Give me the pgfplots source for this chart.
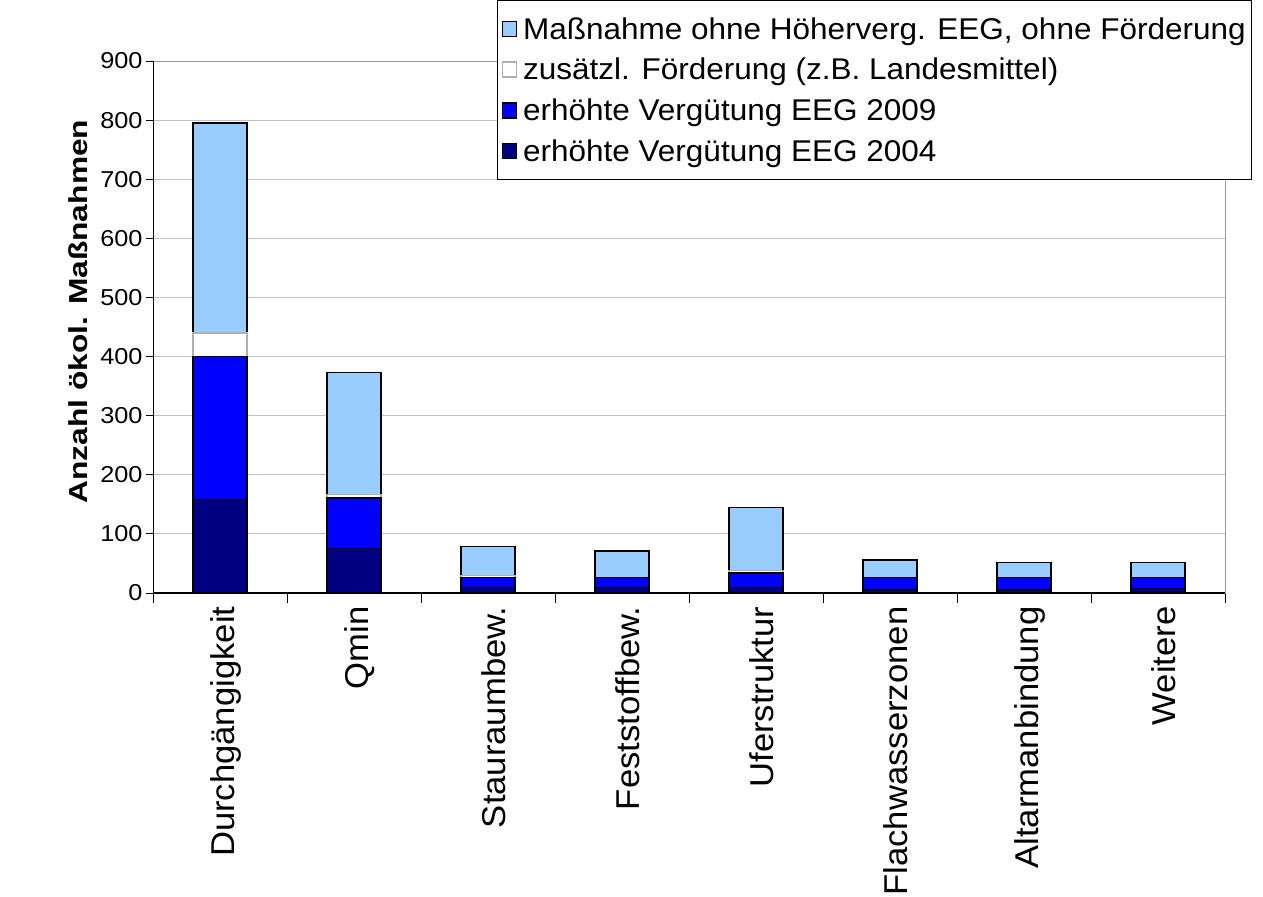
\documentclass[border=0pt]{standalone}
\usepackage{fontspec}
\setmainfont{Liberation Sans}
\newfontfamily\tickf{Liberation Sans}[FakeStretch=1.1]
\newfontfamily\labf{Liberation Sans}[FakeStretch=1.05]
\newfontfamily\legf{Liberation Sans}[FakeStretch=1.05]
\newfontfamily\ylabf{Liberation Sans}[FakeStretch=1.22]
\usepackage{pgfplots}
\pgfplotsset{compat=1.18}
\definecolor{lightb}{HTML}{99CCFF}
\definecolor{midb}{HTML}{0000FF}
\definecolor{navyb}{HTML}{000080}
\definecolor{gridc}{HTML}{C0C0C0}
\definecolor{whiteedge}{HTML}{B0B0B0}
\begin{document}
\begin{tikzpicture}
\begin{axis}[
  name=ax,
  width=1072bp, height=532bp, scale only axis,
  ybar stacked, bar width=54bp,
  xmin=-0.5, xmax=7.5, ymin=0, ymax=900,
  xtick={0,...,7},
  xticklabels={Durchgängigkeit,Qmin,Stauraumbew.,Feststoffbew.,Uferstruktur,Flachwasserzonen,Altarmanbindung,Weitere},
  minor xtick={-0.5,0.5,...,7.5},
  ytick={0,100,...,900},
  tick align=outside, tick pos=left,
  major tick length=7bp, minor tick length=10bp,
  major x tick style={draw=none},
  minor x tick style={draw=black, line width=1bp},
  ytick style={draw=black, line width=1bp},
  ymajorgrids, grid style={draw=gridc, line width=1bp},
  axis line style={draw=gray!80, line width=1bp},
  /pgf/number format/assume math mode=true,
  yticklabel style={font=\tickf\fontsize{23bp}{27bp}\selectfont},
  xticklabel style={font=\labf\fontsize{33bp}{38bp}\selectfont, rotate=90, anchor=east, xshift=-3bp, yshift=-6bp},
  ylabel={Anzahl ökol. Maßnahmen},
  ylabel style={font=\ylabf\bfseries\fontsize{26bp}{30bp}\selectfont, at={(axis description cs:-0.07,0.529)}, anchor=center},
  reverse legend,
  legend cell align=left,
  legend style={at={(rel axis cs:0.321,1.115)}, anchor=north west, draw=black, line width=1bp,
    font=\legf\fontsize{30bp}{36bp}\selectfont, inner xsep=4bp, inner ysep=15bp, row sep=13.5bp,
    /tikz/every odd column/.append style={column sep=4bp},
    /tikz/every even column/.append style={column sep=4bp}},
  legend image code/.code={\draw[#1, line width=1.5bp] (0bp,-7.5bp) rectangle (14bp,7.5bp);},
]
\addplot[fill=navyb, draw=black, line width=1.5bp] coordinates {(0,158) (1,75) (2,9) (3,9) (4,9) (5,5) (6,5) (7,8)};
\addlegendentry{erhöhte Vergütung EEG 2004}
\addplot[fill=midb, draw=black, line width=1.5bp] coordinates {(0,242) (1,86) (2,17) (3,17) (4,25) (5,21) (6,21) (7,18)};
\addlegendentry{erhöhte Vergütung EEG 2009}
\addplot[fill=white, draw=whiteedge, line width=1.5bp] coordinates {(0,40) (1,6) (2,4) (3,0) (4,4) (5,0) (6,0) (7,0)};
\addlegendentry{zusätzl. Förderung (z.B. Landesmittel)}
\addplot[fill=lightb, draw=black, line width=1.5bp] coordinates {(0,355) (1,206) (2,49) (3,45) (4,107) (5,30) (6,26) (7,26)};
\addlegendentry{Maßnahme ohne Höherverg. EEG, ohne Förderung}
\draw[black, line width=1.2bp] (rel axis cs:0,1) -- (rel axis cs:0,0) -- (rel axis cs:1,0);
\end{axis}
\pgfresetboundingbox
\useasboundingbox ([shift={(-153bp,-303bp)}]ax.south west) rectangle ([shift={(38bp,61bp)}]ax.north east);
\end{tikzpicture}
\end{document}
